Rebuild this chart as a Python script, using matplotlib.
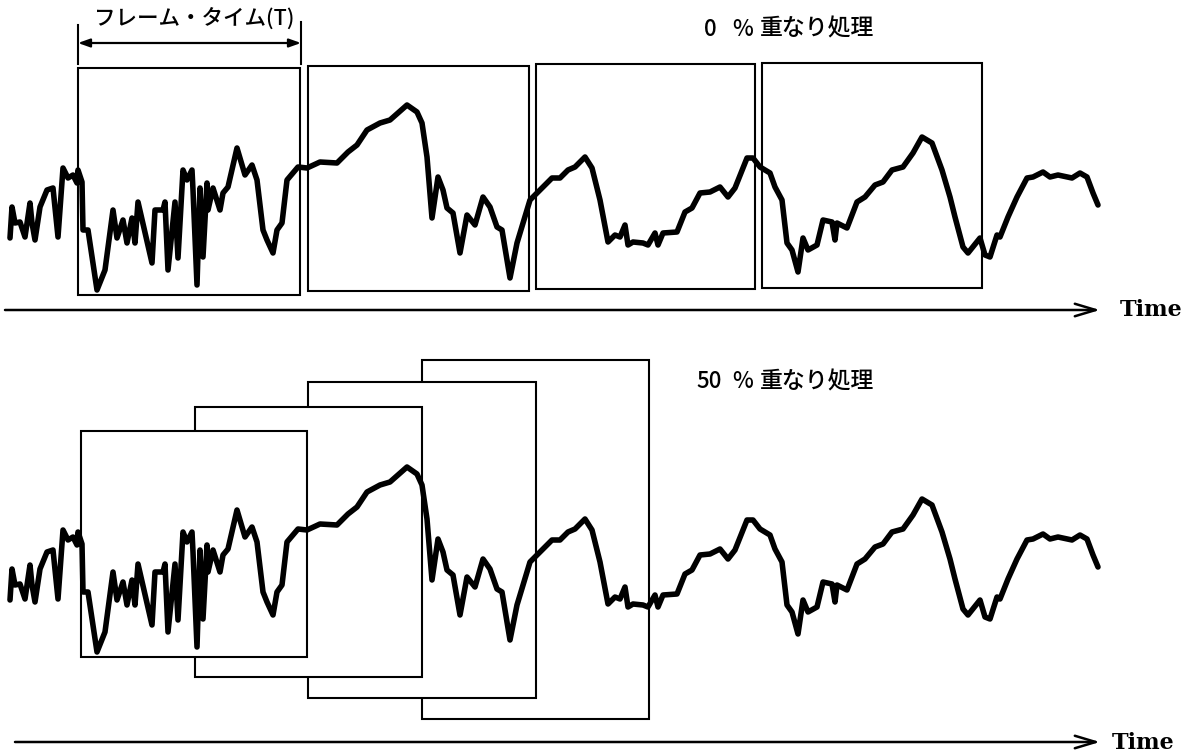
import matplotlib.pyplot as plt
from matplotlib.patches import Rectangle

plt.rcParams['font.family'] = ['Noto Sans CJK JP', 'DejaVu Sans']

# waveform (time in px, vertical position in px of the upper row)
wave_t = [10, 12, 15, 20, 25, 30, 32, 35, 40, 47, 53, 58, 63, 68, 73, 77, 78, 82, 83, 88,
          97, 105, 113, 117, 123, 127, 132, 135, 138, 152, 155, 163, 165, 168, 175, 178, 183, 187, 192, 193,
          197, 200, 203, 207, 208, 213, 220, 223, 228, 237, 245, 252, 257, 263, 267, 273, 277, 282, 287, 293,
          298, 307, 320, 337, 348, 357, 367, 380, 390, 407, 417, 422, 427, 432, 438, 443, 447, 453, 460, 467,
          475, 483, 490, 497, 502, 510, 517, 523, 530, 538, 542, 552, 560, 568, 575, 585, 592, 600, 608, 615,
          620, 625, 628, 633, 643, 648, 655, 658, 663, 677, 685, 692, 700, 710, 720, 728, 735, 747, 753, 760,
          770, 775, 782, 787, 792, 798, 803, 808, 817, 823, 832, 835, 837, 847, 857, 865, 875, 883, 892, 903,
          913, 922, 932, 942, 950, 955, 963, 968, 980, 985, 990, 997, 1000, 1008, 1017, 1027, 1033, 1043, 1050, 1058,
          1072, 1080, 1087, 1093, 1098]
wave_y = [238, 207, 223, 222, 237, 203, 223, 240, 207, 190, 188, 237, 168, 178, 175, 183, 170, 182, 230, 230,
          290, 270, 210, 238, 220, 243, 218, 243, 202, 263, 210, 210, 202, 270, 202, 258, 170, 180, 170, 190,
          285, 188, 257, 183, 210, 188, 210, 193, 187, 148, 175, 165, 180, 230, 240, 253, 230, 223, 180, 173,
          167, 168, 162, 163, 152, 145, 130, 123, 120, 105, 112, 123, 157, 218, 177, 190, 208, 213, 253, 215,
          225, 197, 207, 227, 230, 278, 243, 223, 200, 192, 188, 178, 178, 170, 167, 157, 168, 200, 242, 235,
          237, 225, 245, 242, 243, 245, 233, 245, 233, 232, 212, 208, 193, 192, 187, 197, 188, 158, 158, 167,
          173, 187, 200, 243, 250, 272, 238, 250, 245, 220, 222, 240, 223, 228, 202, 197, 185, 182, 170, 167,
          153, 137, 143, 170, 197, 217, 247, 253, 238, 255, 257, 235, 237, 217, 197, 178, 177, 172, 177, 175,
          178, 173, 177, 193, 205]
row_shift = 362

# frames, 0 % overlap
top_start = [78, 308, 536, 762]
top_end = [300, 529, 755, 982]
top_top = [68, 66, 64, 63]
top_bottom = [295, 291, 289, 288]

# frames, 50 % overlap (front to back)
bot_start = [81, 195, 308, 422]
bot_end = [307, 422, 536, 649]
bot_top = [431, 407, 382, 360]
bot_bottom = [657, 677, 698, 719]

fig = plt.figure(figsize=(12.02, 7.52), dpi=100)
ax = fig.add_axes([0, 0, 1, 1])
ax.set_xlim(0, 1202)
ax.set_ylim(752, 0)
ax.axis('off')

for s, e, t, b in zip(top_start, top_end, top_top, top_bottom):
    ax.add_patch(Rectangle((s, t), e - s, b - t, fill=False, lw=1.5, ec='black', zorder=2))

for i, (s, e, t, b) in enumerate(zip(bot_start, bot_end, bot_top, bot_bottom)):
    ax.add_patch(Rectangle((s, t), e - s, b - t, fc='white', lw=1.5, ec='black', zorder=4 - i))

ax.plot(wave_t, wave_y, color='black', lw=4, solid_joinstyle='round', solid_capstyle='round', zorder=10)
ax.plot(wave_t, [v + row_shift for v in wave_y], color='black', lw=4,
        solid_joinstyle='round', solid_capstyle='round', zorder=10)

# time axes
arrow = dict(arrowstyle='->,head_length=1.5,head_width=0.45', lw=1.8, color='black', shrinkA=0, shrinkB=0)
ax.annotate('', xy=(1100, 310), xytext=(5, 310), arrowprops=arrow)
ax.annotate('', xy=(1100, 742), xytext=(15, 742), arrowprops=arrow)
ax.text(1120, 310, 'Time', family='DejaVu Serif', fontweight='bold', fontsize=16, va='center', ha='left')
ax.text(1112, 743, 'Time', family='DejaVu Serif', fontweight='bold', fontsize=16, va='center', ha='left')

# frame time dimension
ax.plot([78, 78], [25, 64], color='black', lw=1.5)
ax.plot([301, 301], [22, 64], color='black', lw=1.5)
ax.annotate('', xy=(301, 43), xytext=(78, 43),
            arrowprops=dict(arrowstyle='<|-|>,head_length=0.7,head_width=0.25', lw=1.6, color='black',
                            shrinkA=0, shrinkB=0))
ax.text(94, 19, 'フレーム・タイム(T)', fontsize=15.5, fontweight='medium', va='center', ha='left')

ax.text(717, 29, '0', fontsize=16, fontweight='medium', va='center', ha='right')
ax.text(753, 29, '%', fontsize=16, fontweight='medium', va='center', ha='right')
ax.text(760, 29, '重なり処理', fontsize=16.5, fontweight='medium', va='center', ha='left')
ax.text(722, 382, '50', fontsize=16, fontweight='medium', va='center', ha='right')
ax.text(753, 382, '%', fontsize=16, fontweight='medium', va='center', ha='right')
ax.text(760, 382, '重なり処理', fontsize=16.5, fontweight='medium', va='center', ha='left')

fig.savefig('out.png', dpi=100)
